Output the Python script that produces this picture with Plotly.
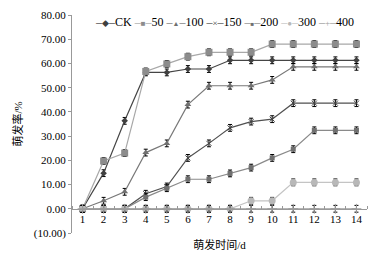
import plotly.graph_objects as go

days = list(range(1, 15))
series_names = ["CK", "50", "100", "150", "200", "300", "400"]
ck = [0, 14.7, 36.3, 56.3, 56.3, 57.7, 57.7, 61.3, 61.3, 61.3, 61.3, 61.3, 61.3, 61.3]
s50 = [0, 19.7, 23.0, 56.7, 59.8, 62.8, 64.6, 64.6, 64.6, 68.0, 68.0, 68.0, 68.0, 68.0]
s100 = [0, 3.3, 7.0, 23.2, 27.0, 43.0, 50.8, 50.8, 50.8, 53.2, 58.6, 58.6, 58.6, 58.6]
s150 = [0, 0, 0, 6.2, 9.2, 21.0, 27.0, 33.4, 36.0, 37.0, 43.6, 43.6, 43.6, 43.6]
s200 = [0, 0, 0, 4.8, 8.5, 12.2, 12.2, 14.6, 17.0, 21.0, 24.6, 32.4, 32.4, 32.4]
s300 = [0, 0, 0, 0, 0, 0, 0, 0, 3.3, 3.3, 10.9, 10.9, 10.9, 10.9]
s400 = [0] * 14
err = [1.4] * 14

ytick_vals = [-10, 0, 10, 20, 30, 40, 50, 60, 70, 80]
ytick_text = ["(10.00)", "0.00", "10.00", "20.00", "30.00", "40.00", "50.00", "60.00", "70.00", "80.00"]

# (values, line colour, marker colour, marker symbol, marker size, marker line width, legend glyph, glyph size)
styles = [
    (ck, "#454545", "#404040", "diamond", 5, None, "◆", 7),
    (s50, "#a8a8a8", "#8c8c8c", "square", 7, None, "■", 8),
    (s100, "#787878", "#707070", "triangle-up", 6, None, "▲", 7),
    (s150, "#505050", "#404040", "x-thin", 5, 1, "×", 9),
    (s200, "#8a8a8a", "#707070", "square", 5, None, "■", 6),
    (s300, "#c4c4c4", "#b8b8b8", "circle", 7, None, "●", 8),
    (s400, "#9c9c9c", "#9c9c9c", "cross-thin", 7, 1, "+", 9),
]

fig = go.Figure()
legend_parts = []
for name, (vals, lcol, mcol, sym, size, lw, glyph, gsize) in zip(series_names, styles):
    marker = dict(symbol=sym, size=size, color=mcol)
    if lw:
        marker["line"] = dict(color=mcol, width=lw)
    fig.add_trace(go.Scatter(
        x=days, y=vals, name=name, mode="lines+markers",
        line=dict(color=lcol, width=1.2), marker=marker,
        error_y=dict(type="data", array=err, color="black", thickness=1, width=2),
    ))
    legend_parts.append(
        f'<span style="color:{lcol}">–<span style="font-size:{gsize}px;fill:{mcol}">{glyph}</span>–</span>{name}'
    )

serif = "Liberation Serif, Noto Sans CJK SC"
fig.update_layout(
    width=376, height=253,
    margin=dict(l=64, r=17, t=7, b=28),
    paper_bgcolor="white", plot_bgcolor="white",
    font=dict(family=serif, size=11, color="black"),
    showlegend=False,
    xaxis=dict(range=[0.5, 14.5], tickvals=days, ticktext=[str(d) for d in days],
               showgrid=False, zeroline=False, showline=True, linecolor="#999999",
               anchor="free", position=10 / 90, ticks="", automargin=False,
               ticklabeloverflow="allow",
               minor=dict(ticks="inside", tick0=0.5, dtick=1, ticklen=3, tickcolor="#999999"),
               title=dict(text="萌发时间/d", font=dict(size=11, family=serif), standoff=17)),
    yaxis=dict(range=[-10, 80], tickvals=ytick_vals, ticktext=ytick_text, automargin=False,
               ticklabeloverflow="allow",
               showgrid=False, zeroline=False, showline=True, linecolor="#999999",
               ticks="outside", ticklen=3, tickcolor="#999999",
               title=dict(text="萌发率/%", font=dict(size=11, family=serif), standoff=8)),
    annotations=[dict(
        text=" ".join(legend_parts), xref="paper", yref="paper",
        x=0.07, y=0.97, xanchor="left", yanchor="middle", showarrow=False,
        font=dict(size=12, family=serif, color="black"),
    )],
)

fig.write_html("out.html")
